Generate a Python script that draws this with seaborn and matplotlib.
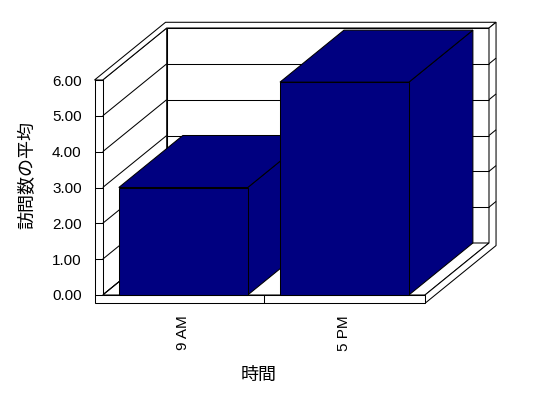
import numpy as np
import pandas as pd
import matplotlib
matplotlib.use("Agg")
import matplotlib.pyplot as plt
import seaborn as sns
from matplotlib.patches import Polygon

# ---- data ----
categories = ["9 AM", "5 PM"]
values = [3.0, 5.94]
yticks = [0, 1, 2, 3, 4, 5, 6]
ytick_labels = ["0.00", "1.00", "2.00", "3.00", "4.00", "5.00", "6.00"]
x_label = "時間"
y_label = "訪問数の平均"

BAR = "#000080"
FAM = ["Liberation Sans", "Noto Sans CJK JP", "DejaVu Sans"]
plt.rcParams["font.family"] = FAM

W, H = 548, 398
L, R, B, T = 102.7, 425.0, 295.0, 80.0   # front plane in pixels

fig = plt.figure(figsize=(W / 100, H / 100), dpi=100)
fig.patch.set_facecolor("white")
ax = fig.add_axes([L / W, 1 - B / H, (R - L) / W, (B - T) / H])
ax.set_facecolor("none")

df = pd.DataFrame({"time": categories, "visits": values})
sns.barplot(data=df, x="time", y="visits", color=BAR, saturation=1,
            width=0.8, errorbar=None, edgecolor="black", linewidth=0.75, ax=ax)

xmin, xmax = -0.5, len(categories) - 0.5
ymin, ymax = yticks[0], yticks[-1]
ax.set_xlim(xmin, xmax)
ax.set_ylim(ymin, ymax)
for s in ax.spines.values():
    s.set_visible(False)

px_x = (R - L) / (xmax - xmin)
px_y = (B - T) / (ymax - ymin)
DX = 64 / px_x
DY = 52 / px_y
w = 8.2 / px_x     # left wall thickness
f = 8.3 / px_y     # floor thickness
b = 0.11           # back wall thickness (depth units)


def P(x, y, z):
    return (x + z * DX, y + z * DY)


def face(pts, z=1, fc="white"):
    ax.add_patch(Polygon([P(*p) for p in pts], closed=True, fc=fc, ec="black",
                         lw=0.75, zorder=z, clip_on=False, joinstyle="miter"))


def line(p0, p1, z=1.2):
    a, c = P(*p0), P(*p1)
    ax.plot([a[0], c[0]], [a[1], c[1]], color="black", lw=0.75, zorder=z,
            clip_on=False, solid_capstyle="butt")


# walls
face([(xmin, ymin, 1), (xmax, ymin, 1), (xmax, ymax, 1), (xmin, ymax, 1)])
face([(xmin, ymin, 0), (xmin, ymin, 1), (xmin, ymax, 1), (xmin, ymax, 0)])
face([(xmin, ymin, 0), (xmax, ymin, 0), (xmax, ymin, 1), (xmin, ymin, 1)])
# top of walls
face([(xmin - w, ymax, 0), (xmin, ymax, 0), (xmin, ymax, 1), (xmax, ymax, 1),
      (xmax, ymax, 1 + b), (xmin - w, ymax, 1 + b)])
# right side of floor/back wall
face([(xmax, ymin - f, 0), (xmax, ymin, 0), (xmax, ymin, 1), (xmax, ymax, 1),
      (xmax, ymax, 1 + b), (xmax, ymin - f, 1 + b)])
# front of left wall and floor
face([(xmin - w, ymin - f, 0), (xmax, ymin - f, 0), (xmax, ymin, 0),
      (xmin, ymin, 0), (xmin, ymax, 0), (xmin - w, ymax, 0)])

# gridlines
for v in yticks[:-1]:
    line((xmin, v, 0), (xmin, v, 1))
    if v > ymin:
        line((xmin, v, 1), (xmax, v, 1))
        line((xmax, v, 1), (xmax, v, 1 + b))

# 3D bars
for i, p in enumerate(ax.patches):
    if isinstance(p, Polygon):
        continue
    x0 = p.get_x()
    x1 = x0 + p.get_width()
    h = p.get_height()
    face([(x1, 0, 0), (x1, 0, 1), (x1, h, 1), (x1, h, 0)], z=3 + 2 * i, fc=BAR)
    face([(x0, h, 0), (x1, h, 0), (x1, h, 1), (x0, h, 1)], z=3 + 2 * i, fc=BAR)
    p.set_zorder(4 + 2 * i)
    p.set_clip_on(False)

# ticks
ax.set_yticks(yticks)
ax.set_yticklabels(ytick_labels)
ax.tick_params(axis="y", length=5.9, width=0.75, direction="out", pad=9.2,
               labelsize=11, colors="black")
ax.set_xticks(range(len(categories)))
ax.set_xticklabels(categories, rotation=90)
ax.set_xticks([0.5], minor=True)
ax.tick_params(axis="x", which="major", length=0, pad=14.4, labelsize=11)
ax.tick_params(axis="x", which="minor", length=5.9, width=0.75, direction="out")
ax.set_xlabel("")
ax.set_ylabel("")

fig.text(259 / W, 1 - 375.5 / H, x_label, ha="center", va="center", fontsize=13)
fig.text(28 / W, 1 - 175 / H, y_label, ha="center", va="center", fontsize=13,
         rotation=90)

fig.savefig("out.png", dpi=100, facecolor="white")
